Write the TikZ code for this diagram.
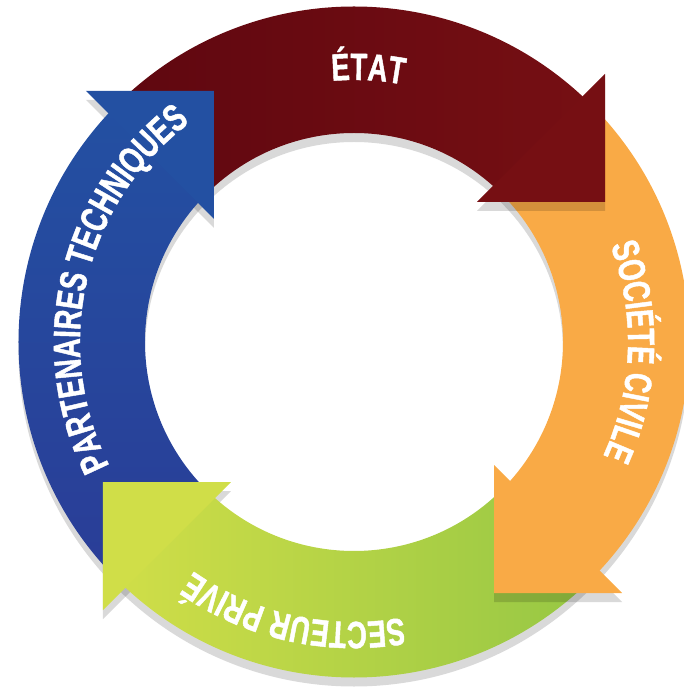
\documentclass[tikz,border=0pt]{standalone}
\usepackage{fontspec}
\newfontfamily\ringfont{Liberation Sans}[FakeStretch=0.72,FakeBold=1.2]
\usetikzlibrary{decorations.text}
\definecolor{etatL}{HTML}{5F0710}
\definecolor{etatR}{HTML}{760F13}
\definecolor{civile}{HTML}{F9AA46}
\definecolor{priveL}{HTML}{D0DE48}
\definecolor{priveR}{HTML}{96C744}
\definecolor{partT}{HTML}{2350A2}
\definecolor{partB}{HTML}{2A3D97}

\begin{document}
\begin{tikzpicture}[x=1pt,y=1pt]
        \tikzset{myshadow/.style={fill=black,opacity=0.15},
                 mylabel/.style={decorate,decoration={text along path,text align=center,text color=white,
                    text={|\ringfont\bfseries\fontsize{38}{40}\selectfont|#1}}}}
        \useasboundingbox (-354,-353) rectangle (329,342);
        % shadows under the ring and under the heads that lie on their own band
        \fill[myshadow,even odd rule] (0,-9) circle[radius=335.5] (0,-9) circle[radius=209];
        \fill[myshadow] (-251,-149) -- (-251,-277) -- (-123,-149) -- cycle;
        \fill[myshadow] (-140,242) -- (-268,242) -- (-140,114) -- cycle;
        % bands
        \shade[left color=etatL,right color=etatR] (135:335.5) arc[start angle=135,end angle=45,radius=335.5]
            -- (45:209) arc[start angle=45,end angle=135,radius=209] -- cycle;
        \fill[civile] (45:335.5) arc[start angle=45,end angle=-45,radius=335.5]
            -- (-45:209) arc[start angle=-45,end angle=45,radius=209] -- cycle;
        \shade[left color=priveL,right color=priveR] (-45:335.5) arc[start angle=-45,end angle=-135,radius=335.5]
            -- (-135:209) arc[start angle=-135,end angle=-45,radius=209] -- cycle;
        \shade[top color=partT,bottom color=partB] (225:335.5) arc[start angle=225,end angle=135,radius=335.5]
            -- (135:209) arc[start angle=135,end angle=225,radius=209] -- cycle;
        % shadows of the heads that lie on the next band
        \fill[myshadow] (251,131) -- (251,259) -- (123,131) -- cycle;
        \fill[myshadow] (140,-260) -- (268,-260) -- (140,-132) -- cycle;
        % heads
        \fill[etatR] (251,140) -- (251,268) -- (123,140) -- cycle;
        \fill[civile] (140,-251) -- (268,-251) -- (140,-123) -- cycle;
        \fill[priveL] (-251,-140) -- (-251,-268) -- (-123,-140) -- cycle;
        \fill[partT] (-140,251) -- (-268,251) -- (-140,123) -- cycle;
        % labels
        \path[mylabel=ÉTAT] (147:262) arc[start angle=147,end angle=27,radius=262];
        \path[mylabel=SOCIÉTÉ CIVILE] (58:274) arc[start angle=58,end angle=-62,radius=274];
        \path[mylabel=SECTEUR PRIVÉ] (317.5:280) arc[start angle=317.5,end angle=197.5,radius=280];
        \path[mylabel=PARTENAIRES TECHNIQUES] (226.8:274) arc[start angle=226.8,end angle=106.8,radius=274];
\end{tikzpicture}
\end{document}
